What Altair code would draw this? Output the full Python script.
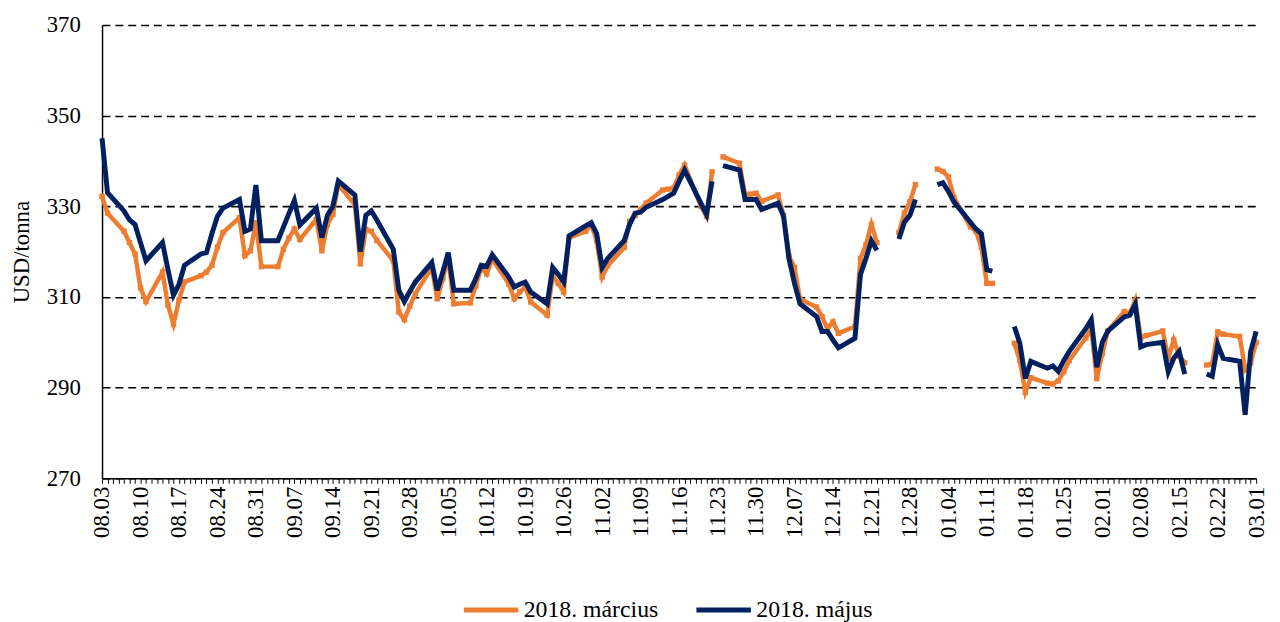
import altair as alt
import pandas as pd

# ---------------- data ----------------
start_date = "2017-08-03"
end_date = "2018-03-01"

series_names = ["2018. március", "2018. május"]

tick_labels = ["08.03", "08.10", "08.17", "08.24", "08.31", "09.07", "09.14", "09.21",
               "09.28", "10.05", "10.12", "10.19", "10.26", "11.02", "11.09", "11.16",
               "11.23", "11.30", "12.07", "12.14", "12.21", "12.28", "01.04", "01.11",
               "01.18", "01.25", "02.01", "02.08", "02.15", "02.22", "03.01"]

y_ticks = [270, 290, 310, 330, 350, 370]

# one value per weekday (holidays left empty -> gap in the line)
marcius = [
    332.2, 328.5,
    324.5, 322.0, 319.5, 312.0, 309.0,
    315.5, 308.2, 304.0, 309.3, 313.3,
    314.7, 315.5, 317.0, 321.0, 324.2,
    327.5, 319.1, 320.2, 326.4, 316.7,
    316.7, 320.5, 323.0, 325.0, 322.7,
    327.1, 320.2, 326.0, 328.2, 334.8,
    330.4, 317.3, 324.9, 324.5, 322.5,
    318.0, 306.7, 305.0, 308.0, 310.7,
    316.5, 309.6, 314.0, 318.7, 308.5,
    308.7, 312.5, 316.5, 315.1, 318.4,
    312.9, 309.6, 311.1, 312.2, 308.9,
    306.0, 314.7, 313.0, 311.1, 323.1,
    324.5, 326.0, 322.5, 314.4, 316.9,
    320.9, 326.7, 328.0, 329.3, 330.7,
    333.6, 333.8, 334.0, 336.9, 339.1,
    330.0, 327.8, 337.6, None, 340.9,
    339.5, 332.5, 332.7, 332.9, 331.1,
    332.5, 328.0, 319.0, 316.5, 309.5,
    307.8, 305.7, 303.0, 304.5, 302.0,
    303.5, 318.5, 321.5, 326.0, 322.0,
    None, 324.2, 328.5, 331.0, 334.8,
    None, 338.2, 337.7, 336.5, 332.0,
    325.5, 324.5, 321.0, 313.0, 313.0,
    None, 299.8, 296.0, 289.0, 292.2,
    291.0, 290.8, 291.5, 293.5, 296.0,
    301.0, 303.0, 292.0, 297.5, 302.5,
    306.8, 306.4, 309.3, 301.0, 301.5,
    302.5, 296.5, 300.5, 297.0, 295.5,
    None, 295.0, 295.2, 302.3, 301.8,
    301.3, 294.0, 295.5, 300.0,
]

majus = [
    345.0, 333.0,
    329.0, 327.0, 326.0, 322.0, 318.0,
    322.0, 316.0, 310.4, 312.8, 317.0,
    319.5, 319.8, 324.0, 327.8, 329.6,
    331.5, 324.5, 325.0, 334.7, 322.4,
    322.4, 325.4, 328.4, 331.3, 325.9,
    329.6, 323.1, 328.0, 330.0, 335.6,
    332.5, 320.0, 328.0, 329.0, 327.0,
    320.5, 311.5, 309.0, 311.2, 313.3,
    317.6, 311.5, 315.5, 319.8, 311.5,
    311.5, 314.0, 317.0, 316.8, 319.3,
    314.4, 312.2, 312.8, 313.3, 311.1,
    308.5, 316.5, 315.0, 313.3, 323.5,
    325.7, 326.4, 324.0, 316.5, 318.5,
    322.4, 326.0, 328.5, 328.7, 329.8,
    331.5, 332.2, 332.9, 335.5, 338.0,
    330.6, 328.2, 335.5, None, 339.0,
    338.0, 331.5, 331.5, 331.5, 329.3,
    330.7, 327.8, 318.4, 313.0, 308.5,
    305.7, 302.4, 302.4, 300.5, 298.8,
    300.9, 315.0, 318.5, 322.4, 320.3,
    None, 322.8, 326.5, 328.0, 331.5,
    None, 334.8, 335.2, 333.3, 331.0,
    326.5, 325.0, 324.0, 316.0, 315.7,
    None, 303.5, 299.8, 292.0, 295.8,
    294.3, 294.8, 293.6, 296.0, 298.0,
    303.0, 305.0, 294.5, 300.0, 302.5,
    305.6, 306.0, 308.4, 299.0, 299.5,
    300.0, 293.5, 296.5, 298.0, 293.0,
    None, 293.0, 292.5, 299.5, 296.5,
    295.8, 284.0, 298.0, 302.4,
]

ORANGE = "#ED7D31"
NAVY = "#002060"
FONT = "Liberation Serif"
FS = 23

dates = pd.bdate_range(start_date, end_date)
day = (dates - dates[0]).days

df = pd.DataFrame({
    "date": dates.strftime("%Y-%m-%d"),
    "day": day,
    series_names[0]: marcius,
    series_names[1]: majus,
})
long_df = df.melt(id_vars=["date", "day"], var_name="series", value_name="price")

total_days = int(day.max())
label_array = "[" + ",".join("'" + t + "'" for t in tick_labels) + "]"
label_expr = "datum.value % 7 == 0 ? " + label_array + "[datum.value / 7] : ''"

x_enc = alt.X(
    "day:Q",
    scale=alt.Scale(domain=[0, total_days], nice=False, zero=False),
    axis=alt.Axis(
        values=list(range(0, total_days + 1)),
        labelExpr=label_expr,
        labelAngle=270,
        labelOverlap=False,
        labelFlush=False,
        labelPadding=3,
        tickSize=5,
        tickColor="black",
        tickWidth=1,
        grid=False,
        domainColor="black",
        domainWidth=1.5,
        labelFont=FONT,
        labelFontSize=FS,
        labelColor="black",
    ),
    title=None,
)

y_enc = alt.Y(
    "price:Q",
    scale=alt.Scale(domain=[270, 370], nice=False, zero=False),
    axis=alt.Axis(
        values=y_ticks,
        grid=True,
        gridDash=[8, 5],
        gridColor="black",
        gridWidth=1.6,
        gridOpacity=1,
        tickSize=0,
        labelPadding=22,
        domainColor="black",
        domainWidth=1.5,
        labelFont=FONT,
        labelFontSize=FS,
        labelColor="black",
        titleFont=FONT,
        titleFontSize=FS,
        titleFontWeight="normal",
        titleColor="black",
        titlePadding=13,
    ),
    title="USD/tonna",
)

color_enc = alt.Color(
    "series:N",
    scale=alt.Scale(domain=series_names, range=[ORANGE, NAVY]),
    legend=alt.Legend(
        title=None,
        orient="none",
        legendX=363,
        legendY=561,
        direction="horizontal",
        symbolType="stroke",
        symbolStrokeWidth=5,
        symbolSize=3025,
        labelFont=FONT,
        labelFontSize=24,
        labelColor="black",
        labelOffset=3,
        columnPadding=28,
        padding=0,
    ),
)

base = alt.Chart(long_df)

orange_line = base.transform_filter(
    alt.datum.series == series_names[0]
).mark_line(
    strokeWidth=4.5,
    invalid="break-paths-show-domains",
    point=alt.OverlayMarkDef(shape="square", size=30, filled=True, opacity=1),
).encode(x=x_enc, y=y_enc, color=color_enc)

navy_line = base.transform_filter(
    alt.datum.series == series_names[1]
).mark_line(
    strokeWidth=5,
    invalid="break-paths-show-domains",
).encode(x=x_enc, y=y_enc, color=color_enc)

chart = alt.layer(orange_line, navy_line).properties(
    width=1166,
    height=458,
    padding={"left": 2, "top": 3, "right": 4, "bottom": 0},
    background="white",
).configure_view(stroke="transparent")

chart.save("out.html", embed_options={"renderer": "svg", "actions": False})
